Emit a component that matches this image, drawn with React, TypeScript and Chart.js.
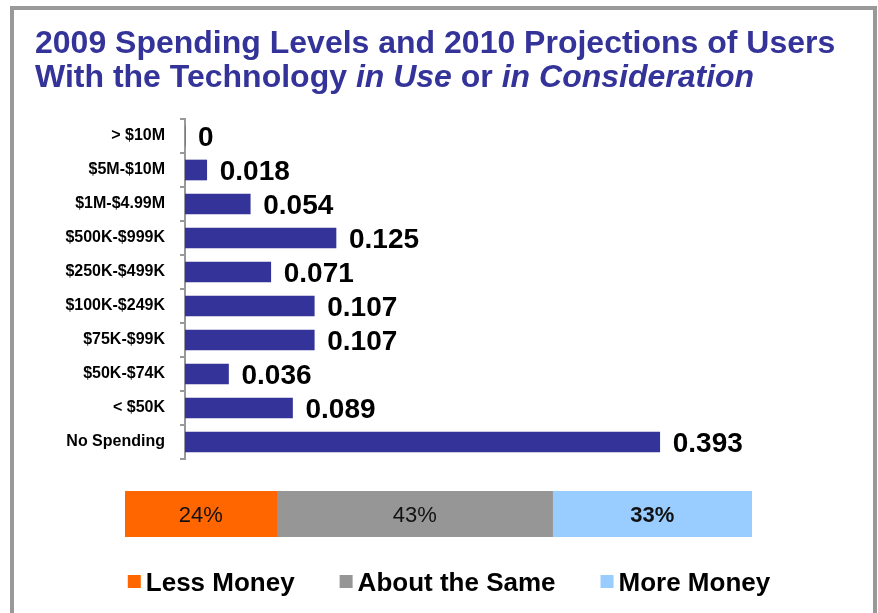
import React, { useEffect, useRef } from "react";
import { Chart, registerables } from "chart.js";

Chart.register(...registerables);

const FONT = '"Liberation Sans", Arial, sans-serif';

// ---- Title ----
const titleLine1 = "2009 Spending Levels and 2010 Projections of Users";
const titleLine2Parts = ["With the Technology ", "in Use", " or ", "in Consideration"];
const titleLine2Italic = [false, true, false, true];

// ---- Top chart: 2009 spending levels ----
const spendingCategories = [
  "> $10M",
  "$5M-$10M",
  "$1M-$4.99M",
  "$500K-$999K",
  "$250K-$499K",
  "$100K-$249K",
  "$75K-$99K",
  "$50K-$74K",
  "< $50K",
  "No Spending",
];
const spendingShares = [0, 0.018, 0.054, 0.125, 0.071, 0.107, 0.107, 0.036, 0.089, 0.393];

// ---- Bottom chart: 2010 projections ----
const projectionNames = ["Less Money", "About the Same", "More Money"];
const projectionShares = [24.2, 44.0, 31.8];
const projectionLabels = ["24%", "43%", "33%"];

const BAR_COLOR = "#333399";
const PROJECTION_COLORS = ["#FF6600", "#969696", "#99CCFF"];
const PROJECTION_LABEL_WEIGHTS = ["normal", "normal", "bold"];

const titlePlugin = {
  id: "mixedTitle",
  afterDraw(chart: any) {
    const ctx = chart.ctx;
    ctx.save();
    ctx.fillStyle = BAR_COLOR;
    ctx.textAlign = "left";
    ctx.textBaseline = "alphabetic";
    ctx.font = `bold 32px ${FONT}`;
    ctx.fillText(titleLine1, 35, 53);
    let x = 35;
    titleLine2Parts.forEach((part, i) => {
      ctx.font = `${titleLine2Italic[i] ? "italic " : ""}bold 32px ${FONT}`;
      ctx.fillText(part, x, 87);
      x += ctx.measureText(part).width;
    });
    ctx.restore();
  },
};

const valueLabelPlugin = {
  id: "valueLabels",
  afterDatasetsDraw(chart: any) {
    const ctx = chart.ctx;
    const meta = chart.getDatasetMeta(0);
    const data = chart.data.datasets[0].data;
    ctx.save();
    ctx.font = `bold 28px ${FONT}`;
    ctx.fillStyle = "#000";
    ctx.textAlign = "left";
    ctx.textBaseline = "alphabetic";
    meta.data.forEach((bar: any, i: number) => {
      ctx.fillText(String(data[i]), bar.x + 13, bar.y + 10);
    });
    ctx.restore();
  },
};

const segmentLabelPlugin = {
  id: "segmentLabels",
  afterDatasetsDraw(chart: any) {
    const ctx = chart.ctx;
    ctx.save();
    ctx.fillStyle = "#111";
    ctx.textAlign = "center";
    ctx.textBaseline = "alphabetic";
    chart.data.datasets.forEach((ds: any, i: number) => {
      const bar: any = chart.getDatasetMeta(i).data[0];
      if (!bar) return;
      ctx.font = `${PROJECTION_LABEL_WEIGHTS[i]} 22px ${FONT}`;
      ctx.fillText(projectionLabels[i], (bar.x + bar.base) / 2, bar.y + 8);
    });
    ctx.restore();
  },
};

const customLegendPlugin = {
  id: "customLegend",
  afterDraw(chart: any) {
    const ctx = chart.ctx;
    const box = 13;
    const gapAfterBox = 5;
    const gapBetween = 45;
    ctx.save();
    ctx.font = `bold 26px ${FONT}`;
    const items = chart.data.datasets.map((ds: any) => {
      const w = ctx.measureText(ds.label).width;
      return { label: ds.label, color: ds.backgroundColor, width: box + gapAfterBox + w };
    });
    const total =
      items.reduce((s: number, it: any) => s + it.width, 0) + gapBetween * (items.length - 1);
    let x = chart.width / 2 + 10 - total / 2;
    const baseline = 121;
    items.forEach((it: any) => {
      ctx.fillStyle = it.color;
      ctx.fillRect(x, baseline - 16, box, box);
      ctx.fillStyle = "#000";
      ctx.textAlign = "left";
      ctx.textBaseline = "alphabetic";
      ctx.fillText(it.label, x + box + gapAfterBox, baseline);
      x += it.width + gapBetween;
    });
    ctx.restore();
  },
};

export default function App() {
  const barRef = useRef<HTMLCanvasElement>(null);
  const stackRef = useRef<HTMLCanvasElement>(null);

  useEffect(() => {
    const c1 = new Chart(barRef.current as HTMLCanvasElement, {
      type: "bar",
      data: {
        labels: spendingCategories,
        datasets: [
          {
            data: spendingShares,
            backgroundColor: BAR_COLOR,
            borderWidth: 0,
            barThickness: 20,
          },
        ],
      },
      options: {
        indexAxis: "y",
        animation: false,
        responsive: true,
        maintainAspectRatio: false,
        layout: { padding: { top: 119, bottom: 11, left: 0, right: 89 } },
        plugins: {
          legend: { display: false },
          tooltip: { enabled: false },
          title: { display: false },
        },
        scales: {
          x: { display: false, min: 0, max: 0.5 },
          y: {
            afterFit: (s: any) => {
              s.width = 185;
              s.paddingTop = 0;
              s.paddingBottom = 0;
            },
            grid: {
              display: true,
              drawOnChartArea: false,
              drawTicks: true,
              tickLength: 5,
              offset: true,
              color: "#999",
              lineWidth: 2,
            },
            border: { display: true, color: "#999", width: 2 },
            ticks: {
              color: "#000",
              font: { family: FONT, size: 16, weight: "bold" },
              padding: 15,
              autoSkip: false,
            },
          },
        },
      } as any,
      plugins: [titlePlugin, valueLabelPlugin],
    });

    const c2 = new Chart(stackRef.current as HTMLCanvasElement, {
      type: "bar",
      data: {
        labels: [""],
        datasets: projectionNames.map((name, i) => ({
          label: name,
          data: [projectionShares[i]],
          backgroundColor: PROJECTION_COLORS[i],
          borderWidth: 0,
          barPercentage: 1,
          categoryPercentage: 1,
        })),
      },
      options: {
        indexAxis: "y",
        animation: false,
        responsive: true,
        maintainAspectRatio: false,
        layout: { padding: { left: 125, right: 126, top: 21, bottom: 76 } },
        plugins: {
          legend: { display: false },
          tooltip: { enabled: false },
        },
        scales: {
          x: { display: false, stacked: true, min: 0, max: 100 },
          y: { display: false, stacked: true },
        },
      } as any,
      plugins: [segmentLabelPlugin, customLegendPlugin],
    });

    return () => {
      c1.destroy();
      c2.destroy();
    };
  }, []);

  return (
    <div
      style={{
        position: "absolute",
        left: 0,
        top: 0,
        width: 878,
        height: 613,
        overflow: "hidden",
        background: "#fff",
      }}
    >
      <div
        style={{
          position: "absolute",
          left: 10,
          top: 6,
          width: 867,
          height: 700,
          border: "4px solid #999",
          boxSizing: "border-box",
        }}
      />
      <div style={{ position: "absolute", left: 0, top: 0, width: 878, height: 470 }}>
        <canvas ref={barRef} />
      </div>
      <div style={{ position: "absolute", left: 0, top: 470, width: 878, height: 143 }}>
        <canvas ref={stackRef} />
      </div>
    </div>
  );
}
